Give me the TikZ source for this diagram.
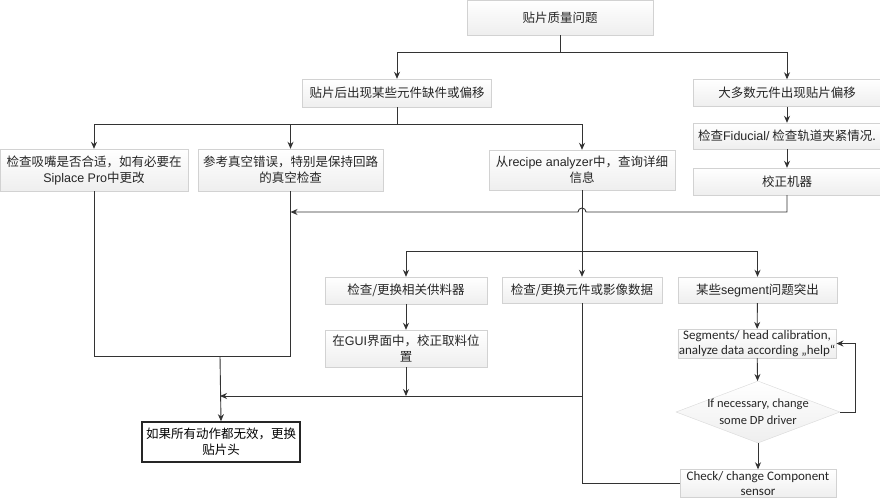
\documentclass[tikz,border=0pt]{standalone}
\usepackage{fontspec}
\setmainfont{Liberation Sans}
\newfontfamily\cjk{Noto Sans CJK SC}
\newfontfamily\calib{Carlito}
\usetikzlibrary{arrows.meta,shapes.geometric,calc}
\newcommand\EN[1]{{\rmfamily #1}}
\begin{document}
\begin{tikzpicture}[x=1pt,y=-1pt,
  box/.style={draw=gray!35, top color=white, bottom color=gray!13, inner sep=1pt, align=center,
    font=\cjk\fontsize{12.5}{16}\selectfont, text=black!85},
  ebox/.style={box, font=\calib\fontsize{13}{15.5}\selectfont},
  hbox/.style={draw=black!85, line width=1.6pt, fill=white, inner sep=1pt, align=center,
    font=\cjk\fontsize{12.5}{16}\selectfont, text=black},
  line/.style={draw=black!80, line width=0.9pt},
  arr/.style={line, -{Stealth[length=7pt,width=6pt]}},
]
\useasboundingbox (0,0) rectangle (880,499);
\fill[white] (0,0) rectangle (880,499);

% nodes
\node[box, minimum width=186, minimum height=35] (q) at (560,17.5) {贴片质量问题};
\node[box, minimum width=189, minimum height=28] (a) at (397,93) {贴片后出现某些元件缺件或偏移};
\node[box, minimum width=188, minimum height=27] (b) at (787,93) {大多数元件出现贴片偏移};
\node[box, minimum width=188, minimum height=26] (c) at (787,136) {检查\EN{Fiducial/} 检查轨道夹紧情况.};
\node[box, minimum width=188, minimum height=27] (d) at (787,181.5) {校正机器};
\node[box, minimum width=188, minimum height=42] (e) at (94,170) {检查吸嘴是否合适，如有必要在\\\EN{Siplace Pro}中更改};
\node[box, minimum width=185, minimum height=42] (f) at (290.5,170) {参考真空错误，特别是保持回路\\的真空检查};
\node[box, minimum width=186, minimum height=40] (g) at (582,170) {从\EN{recipe analyzer}中，查询详细\\信息};
\node[box, minimum width=162, minimum height=27] (h) at (406,290.5) {检查/更换相关供料器};
\node[box, minimum width=162, minimum height=37] (i) at (406,348.5) {在\EN{GUI}界面中，校正取料位\\置};
\node[box, minimum width=160, minimum height=26] (j) at (582,290) {检查/更换元件或影像数据};
\node[box, minimum width=159, minimum height=26] (k) at (757.5,290) {某些\EN{segment}问题突出};
\node[ebox, minimum width=156, minimum height=27] (l) at (757,343.5) {Segments/ head calibration,\\analyze data according „help“};
\node[diamond, draw=gray!30, top color=white, bottom color=gray!13, inner sep=0pt,
  minimum width=164, minimum height=62] (m) at (758,412) {};
\node[font=\calib\fontsize{12.5}{17}\selectfont, align=center, text=black!85] (mt) at (m.center) {If necessary, change\\some DP driver};
\node[ebox, minimum width=156, minimum height=28, inner sep=0pt, font=\calib\fontsize{13}{15}\selectfont] (n) at (758,483.5) {Check/ change Component\\sensor};
\node[hbox, minimum width=158, minimum height=40] (o) at (221,442) {如果所有动作都无效，更换\\贴片头};

% junction coordinates
\coordinate (j1) at (560,52);
\coordinate (j2) at (397,124);
\coordinate (j3) at (787,212);
\coordinate (j4) at (582,251);
\coordinate (j5) at (220,356);
\coordinate (j6) at (582,396);
\coordinate (j7) at (855,412);

% connectors
\draw[line] (q.south) -- (j1);
\draw[arr] (j1) -| (a.north);
\draw[arr] (j1) -| (b.north);
\draw[arr] (b) -- (c);
\draw[arr] (c) -- (d);
\draw[line] (a.south) -- (j2);
\draw[arr] (j2) -| (e.north);
\draw[arr] (j2) -| (f.north);
\draw[arr] (j2) -| (g.north);
\draw[arr] (d.south) -- (j3) -- ($(g.south |- j3)+(4,0)$)
  arc[start angle=0, end angle=180, radius=4pt] -- (f.south |- j3);
\draw[line] (f.south) -- (f.south |- j5) -- (e.south |- j5) -- (e.south);
\draw[arr] (j5) -- (o.north);
\draw[line] (g.south) -- (j4);
\draw[arr] (j4) -- (j.north);
\draw[arr] (j4) -| (h.north);
\draw[arr] (j4) -| (k.north);
\draw[arr] (h) -- (i);
\draw[arr] (i.south) -- (i.south |- j6);
\draw[arr] (j6) -- (j5 |- j6);
\draw[line] (j.south) |- (n.west);
\draw[arr] (k) -- (l);
\draw[arr] (l) -- (m);
\draw[arr] (m) -- (n);
\draw[arr] (m.east) -- (j7) |- (l.east);
\end{tikzpicture}
\end{document}
